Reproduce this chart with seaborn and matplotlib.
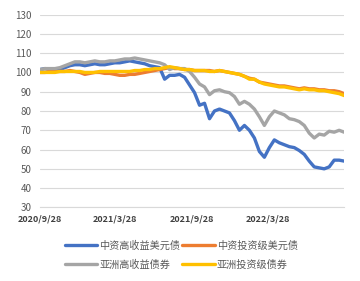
import numpy as np
import pandas as pd
import matplotlib
matplotlib.use("Agg")
import matplotlib.pyplot as plt
from matplotlib.lines import Line2D
import seaborn as sns

# ---------------- data ----------------
start_date = "2020-09-28"
end_date = "2022-09-28"
n_points = 62

series_names = ["中资高收益美元债", "中资投资级美元债", "亚洲高收益债券", "亚洲投资级债券"]

cn_hy = [101.5, 102, 101.5, 101.5, 101.5, 102.5, 103.5, 104, 104, 103.5,
         104, 104.5, 104, 104, 104.5, 105, 105, 105.5, 106, 105.5,
         105, 104.5, 103.5, 103, 102.5, 96.5, 98.5, 98.5, 99, 97.5,
         93.5, 89.5, 83, 84, 76, 80, 81, 80, 79, 75,
         70, 72.5, 70, 66, 59, 56, 61, 65, 63.5, 62.5,
         61.5, 61, 59.5, 57.5, 54, 51, 50.5, 50, 51, 54.5,
         54.5, 54]

cn_ig = [100, 100, 100.5, 100.5, 100.5, 100.5, 101, 100.5, 100, 99,
         99.5, 100, 100, 99.5, 99.5, 99, 98.5, 98.5, 99, 99,
         99.5, 100, 100.5, 101, 101.5, 102, 102.5, 102, 102, 101.5,
         101.5, 101, 101, 101, 101, 100.5, 101, 100.5, 100, 99.5,
         99, 98, 97, 96.5, 95, 94.5, 94, 93.5, 93, 93,
         92.5, 92, 91.5, 92, 91.5, 91.5, 91, 91, 90.5, 90.5,
         90, 89]

asia_hy = [101.5, 102, 102, 102, 102.5, 103.5, 104.5, 105.5, 105.5, 105,
           105.5, 106, 105.5, 105.5, 106, 106, 106.5, 107, 107, 107.5,
           107, 106.5, 106, 105.5, 105, 104, 101.5, 102.5, 102, 102,
           100.5, 97.5, 94, 92.5, 88.5, 90.5, 91, 90, 89.5, 87.5,
           83.5, 85, 83.5, 81, 77, 72.5, 77, 80, 79, 78,
           76, 75.5, 74.5, 72.5, 68.5, 66, 68, 67.5, 69.5, 69,
           70, 69]

asia_ig = [100, 100, 100, 100, 100.5, 100.5, 100.5, 100.5, 100.5, 100,
           100, 100, 100.5, 100.5, 100.5, 100.5, 100.5, 100.5, 100.5, 101,
           101, 101.5, 101.5, 102, 102, 102.5, 103, 102.5, 102, 101.5,
           101.5, 101, 101, 101, 100.5, 100.5, 101, 100.5, 100, 99.5,
           99, 98, 96.5, 96.5, 95, 94, 93.5, 93, 92.5, 92.5,
           92, 91.5, 91, 91.5, 91, 91, 90.5, 90.5, 90, 89.5,
           89, 88]

y_ticks = [30, 40, 50, 60, 70, 80, 90, 100, 110, 120, 130]
x_tick_dates = ["2020-09-28", "2021-03-28", "2021-09-28", "2022-03-28"]
x_tick_labels = ["2020/9/28", "2021/3/28", "2021/9/28", "2022/3/28"]

colors = ["#4472C4", "#ED7D31", "#A5A5A5", "#FFC000"]

# ---------------- build table ----------------
dates = pd.date_range(start_date, end_date, periods=n_points)
frames = []
for name, vals in zip(series_names, [cn_hy, cn_ig, asia_hy, asia_ig]):
    frames.append(pd.DataFrame({"date": dates, "value": vals, "series": name}))
df = pd.concat(frames, ignore_index=True)

# ---------------- plot ----------------
sns.set_theme(style="white")
plt.rcParams["font.family"] = ["Noto Sans CJK SC", "DejaVu Sans"]

fig = plt.figure(figsize=(3.6, 2.81), dpi=100)
ax = fig.add_axes([0.111, 0.262, 0.845, 0.686])

sns.lineplot(data=df, x="date", y="value", hue="series", hue_order=series_names,
             palette=colors, linewidth=2.4, ax=ax, legend=False)

ax.set_ylim(30, 130)
ax.set_yticks(y_ticks)
ax.set_xlim(pd.Timestamp(start_date), pd.Timestamp(end_date))
ax.set_xticks([pd.Timestamp(d) for d in x_tick_dates])
ax.set_xticklabels(x_tick_labels)
ax.grid(axis="y", color="#D9D9D9", linewidth=0.8)
ax.grid(axis="x", visible=False)
ax.set_axisbelow(True)
for s in ["top", "right", "left"]:
    ax.spines[s].set_visible(False)
ax.spines["bottom"].set_color("#D9D9D9")
ax.spines["bottom"].set_linewidth(0.8)
ax.tick_params(axis="both", length=0, pad=4)
ax.tick_params(axis="y", labelsize=7, labelcolor="#595959", pad=6)
ax.tick_params(axis="x", labelsize=6.5, labelcolor="#404040", pad=5)
for lab in ax.get_xticklabels():
    lab.set_fontweight("bold")
ax.set_xlabel("")
ax.set_ylabel("")

order = [0, 2, 1, 3]
handles = [Line2D([0], [0], color=colors[i], linewidth=2.4) for i in order]
labels = [series_names[i] for i in order]
leg = ax.legend(handles, labels, ncol=2, loc="upper center",
                bbox_to_anchor=(0.465, -0.125), frameon=False,
                fontsize=7.3, handlelength=3.2, handletextpad=0.2,
                columnspacing=0.2, labelspacing=0.85)
for t in leg.get_texts():
    t.set_color("#595959")

fig.savefig("out.png", dpi=100)
